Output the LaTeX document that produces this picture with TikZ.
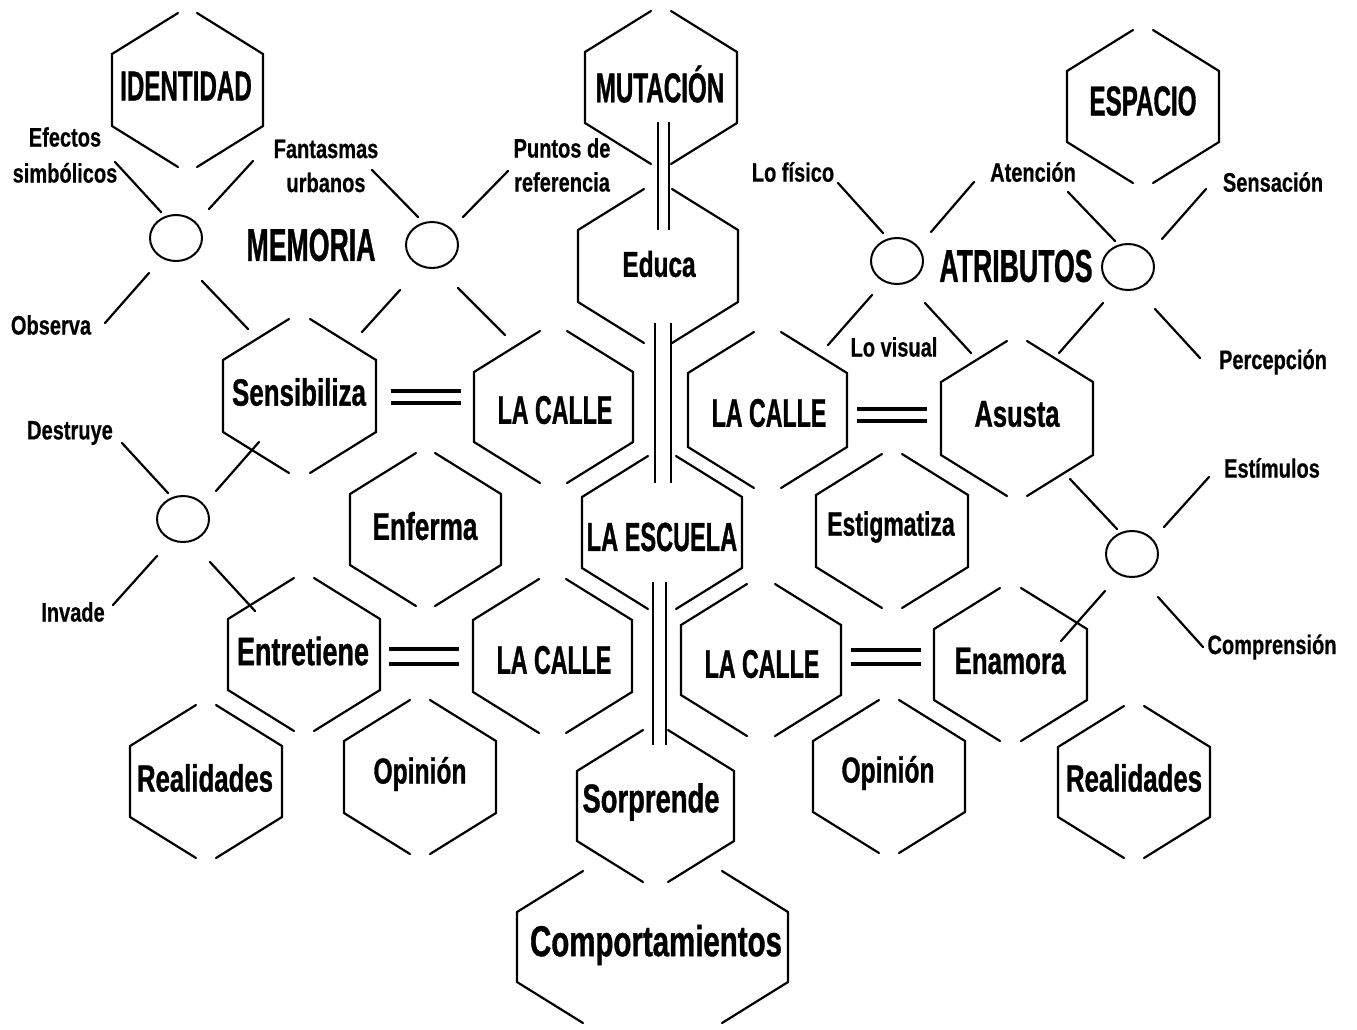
\documentclass[tikz,border=0pt]{standalone}
\usepackage{fontspec}
\usetikzlibrary{calc,shapes.geometric}
\newfontfamily\fcaps[FakeStretch=0.58,FakeBold=0.8]{Liberation Sans}
\newfontfamily\fmix[FakeStretch=0.68,FakeBold=0.8]{Liberation Sans}
\newfontfamily\fsmall[FakeStretch=0.75,FakeBold=0.5]{Liberation Sans}
\tikzset{
  hexline/.style={line width=2.2pt, line cap=round, line join=miter},
  hexbox/.style={inner sep=0pt, outer sep=0pt, draw=none},
  armline/.style={line width=2.2pt, line cap=round},
  eqbar/.style={line width=4.5pt},
  vbar/.style={line width=2.5pt},
  ring/.style={ellipse, draw, line width=2pt, minimum width=52pt, minimum height=46pt, inner sep=0pt},
  capt/.style={font=\fcaps\bfseries\fontsize{#1}{#1}\selectfont, inner sep=0pt},
  mixt/.style={font=\fmix\bfseries\fontsize{#1}{#1}\selectfont, inner sep=0pt},
  smallt/.style={font=\fsmall\bfseries\fontsize{26.7}{#1}\selectfont, align=center, inner sep=0pt}
}
% name, cx, cy, width, side height
\newcommand{\hexa}[5]{%
  \node[hexbox, minimum width=#4pt, minimum height=#5pt] (#1) at (#2,#3) {};
  \draw[hexline] ($(#1.north west)+(66,-41)$) -- (#1.north west) -- (#1.south west) -- ($(#1.south west)+(66,41)$);
  \draw[hexline] ($(#1.north east)+(-66,-41)$) -- (#1.north east) -- (#1.south east) -- ($(#1.south east)+(-66,41)$);
}
\newcommand{\arm}[5]{\draw[armline] ($(#1)+(#2,#3)$) -- ($(#1)+(#4,#5)$);}
\begin{document}
\begin{tikzpicture}[x=1pt,y=-1pt]
\fill[white] (0,0) rectangle (1357,1029);
\useasboundingbox (0,0) rectangle (1357,1029);

% hexagons
\hexa{idn}{187.5}{90}{151}{72}
\hexa{mut}{661}{87.5}{152}{71}
\hexa{esp}{1143}{106.5}{152}{71}
\hexa{edu}{658}{266}{160}{72}
\hexa{sen}{299.5}{396}{153}{72}
\hexa{lca}{553.5}{407}{159}{70}
\hexa{lcb}{767.5}{410}{159}{74}
\hexa{asu}{1017}{418.5}{152}{73}
\hexa{enf}{425.5}{529.5}{151}{71}
\hexa{esc}{662}{532.5}{160}{71}
\hexa{est}{892}{531}{152}{72}
\hexa{ent}{304}{654.5}{152}{71}
\hexa{lcc}{552.5}{656}{159}{72}
\hexa{lcd}{761}{660}{160}{70}
\hexa{ena}{1010.5}{664.5}{153}{71}
\hexa{reaa}{206}{781.5}{152}{71}
\hexa{opia}{420}{777}{152}{72}
\hexa{sor}{655.5}{806}{157}{70}
\hexa{opib}{889}{776.5}{152}{71}
\hexa{reab}{1134}{782}{152}{70}
\hexa{com}{652.5}{947}{271}{70}

% hexagon texts
\node[capt=41.7] (t-idn) at (186,86) {IDENTIDAD};
\node[capt=41.7] (t-mut) at (660,84) {MUTACIÓN};
\node[capt=41.7] (t-esp) at (1143,101) {ESPACIO};
\node[mixt=35.9] (t-edu) at (659,264) {Educa};
\node[mixt=38.1] (t-sen) at (299,392) {Sensibiliza};
\node[capt=40] (t-lca) at (555,410) {LA CALLE};
\node[capt=40] (t-lcb) at (769,413) {LA CALLE};
\node[mixt=37.5] (t-asu) at (1017,414) {Asusta};
\node[mixt=38.6] (t-enf) at (425,526) {Enferma};
\node[capt=40.6] (t-esc) at (662,537) {LA ESCUELA};
\node[mixt=33.7] (t-est) at (891,527) {Estigmatiza};
\node[mixt=39.7] (t-ent) at (303,651) {Entretiene};
\node[capt=40] (t-lcc) at (554,660) {LA CALLE};
\node[capt=40] (t-lcd) at (762,664) {LA CALLE};
\node[mixt=38.1] (t-ena) at (1010,661) {Enamora};
\node[mixt=37.9] (t-reaa) at (205,778) {Realidades};
\node[mixt=36.2] (t-opia) at (420,774) {Opinión};
\node[mixt=40.3] (t-sor) at (651,802) {Sorprende};
\node[mixt=36.2] (t-opib) at (888,773) {Opinión};
\node[mixt=37.9] (t-reab) at (1134,778) {Realidades};
\node[mixt=43.3] (t-com) at (656,945) {Comportamientos};

% free titles
\node[capt=46] (memoria) at (311,245) {MEMORIA};
\node[capt=46] (atributos) at (1016,266) {ATRIBUTOS};

% equality bars
\draw[eqbar] ($(sen.east)+(15,-5)$) -- ++(70,0);
\draw[eqbar] ($(sen.east)+(15,7)$) -- ++(70,0);
\draw[eqbar] ($(ent.east)+(9,-5.5)$) -- ++(70,0);
\draw[eqbar] ($(ent.east)+(9,9.5)$) -- ++(70,0);
\draw[eqbar] ($(lcb.east)+(10,-1)$) -- ++(70,0);
\draw[eqbar] ($(lcb.east)+(10,11)$) -- ++(70,0);
\draw[eqbar] ($(lcd.east)+(10,-10)$) -- ++(70,0);
\draw[eqbar] ($(lcd.east)+(10,4)$) -- ++(70,0);

% vertical double lines
\draw[vbar] ($(mut.south)+(-3,-1)$) -- ++(0,108);
\draw[vbar] ($(mut.south)+(8,-1)$) -- ++(0,108);
\draw[vbar] ($(edu.south)+(-3,21)$) -- ++(0,160);
\draw[vbar] ($(edu.south)+(13,21)$) -- ++(0,160);
\draw[vbar] ($(esc.south)+(-9,14)$) -- ++(0,163);
\draw[vbar] ($(esc.south)+(4,14)$) -- ++(0,163);

% circles
\node[ring] (ca) at (176,238) {};
\node[ring] (cb) at (432,245) {};
\node[ring] (cc) at (183,519) {};
\node[ring] (cd) at (897,261) {};
\node[ring] (ce) at (1128,267) {};
\node[ring] (cf) at (1132,554) {};

% arms
\arm{ca}{-61}{-76}{-15}{-26} \arm{ca}{33}{-29}{77}{-77} \arm{ca}{-27}{35}{-71}{85} \arm{ca}{26}{43}{72}{91}
\arm{cb}{-60}{-75}{-14}{-28} \arm{cb}{31}{-28}{76}{-74} \arm{cb}{-32}{45}{-70}{87} \arm{cb}{26}{43}{73}{90}
\arm{cc}{-61}{-76}{-15}{-26} \arm{cc}{33}{-28}{76}{-77} \arm{cc}{-26}{37}{-70}{86} \arm{cc}{27}{43}{72}{92}
\arm{cd}{-59}{-78}{-14}{-28} \arm{cd}{34}{-29}{77}{-79} \arm{cd}{-25}{34}{-69}{84} \arm{cd}{28}{42}{74}{92}
\arm{ce}{-60}{-75}{-13}{-26} \arm{ce}{34}{-28}{78}{-78} \arm{ce}{-25}{36}{-69}{86} \arm{ce}{27}{42}{72}{91}
\arm{cf}{-62}{-75}{-15}{-25} \arm{cf}{32}{-27}{77}{-77} \arm{cf}{-27}{37}{-71}{87} \arm{cf}{26}{43}{71}{93}

% small labels
\node[smallt=36] (l-efe) at (65,155) {Efectos\\simbólicos};
\node[smallt=26.7] (l-obs) at (51,325) {Observa};
\node[smallt=34] (l-fan) at (326,166) {Fantasmas\\urbanos};
\node[smallt=34] (l-pun) at (562,165) {Puntos de\\referencia};
\node[smallt=26.7] (l-des) at (70,433) {Destruye};
\node[smallt=26.7] (l-inv) at (73,612) {Invade};
\node[smallt=26.7] (l-fis) at (793,172) {Lo físico};
\node[smallt=26.7] (l-ate) at (1033,172) {Atención};
\node[smallt=26.7] (l-sen) at (1273,182) {Sensación};
\node[smallt=26.7] (l-per) at (1273,362) {Percepción};
\node[smallt=26.7] (l-vis) at (894,347) {Lo visual};
\node[smallt=26.7] (l-est) at (1272,468) {Estímulos};
\node[smallt=26.7] (l-com) at (1272,647) {Comprensión};
\end{tikzpicture}
\end{document}
